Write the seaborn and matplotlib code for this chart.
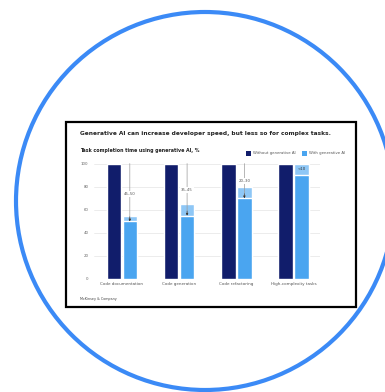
import matplotlib
matplotlib.use("Agg")
import matplotlib.pyplot as plt
from matplotlib.patches import Circle, Rectangle
import seaborn as sns
import pandas as pd

# ---- data ----
categories = ["Code documentation", "Code generation", "Code refactoring", "High-complexity tasks"]
without_ai = [100, 100, 100, 100]
with_ai_low = [50, 55, 70, 90]      # solid part of the "with AI" bar
with_ai_high = [55, 65, 80, 100]    # top of the paler range segment
reduction_labels = ["45–50", "35–45", "20–30", "<10"]
label_y = [74, 77, 85, 95]
yticks = [0, 20, 40, 60, 80, 100]
series = ["Without generative AI", "With generative AI"]

title = "Generative AI can increase developer speed, but less so for complex tasks."
subtitle = "Task completion time using generative AI, %"
source = "McKinsey & Company"

DARK = "#111d6b"
LIGHT = "#4aa5f0"
PALE = "#8ec7f6"
RING = "#3b8af6"

sns.set_theme(style="white")
plt.rcParams["font.family"] = ["DejaVu Sans"]

W, H = 385, 392
fig = plt.figure(figsize=(W / 100, H / 100), dpi=100)
fig.patch.set_facecolor("white")

# background drawing layer in pixel coordinates
bg = fig.add_axes([0, 0, 1, 1])
bg.set_xlim(0, W)
bg.set_ylim(H, 0)
bg.axis("off")
bg.add_patch(Circle((205, 201), 189, fill=False, edgecolor=RING, lw=3.0))
bg.add_patch(Rectangle((66, 122), 290, 185, facecolor="white", edgecolor="black", lw=1.6))
bg.text(80, 133, title, fontsize=4.2, fontweight="semibold", color="#222222", va="center", ha="left")
bg.text(80, 150, subtitle, fontsize=3.4, fontweight="semibold", color="#222222", va="center", ha="left")
bg.text(80, 299, source, fontsize=2.4, color="#444444", va="center", ha="left")

# legend
bg.add_patch(Rectangle((246, 150.5), 5, 5, facecolor=DARK, edgecolor="none"))
bg.text(253, 153, series[0], fontsize=2.8, color="#555555", va="center", ha="left")
bg.add_patch(Rectangle((302, 150.5), 5, 5, facecolor=LIGHT, edgecolor="none"))
bg.text(309, 153, series[1], fontsize=2.8, color="#555555", va="center", ha="left")

# chart axes
left, right, top, bottom = 94, 320, 163, 279
ax = fig.add_axes([left / W, 1 - bottom / H, (right - left) / W, (bottom - top) / H])
ax.set_facecolor("none")

bar_width = 0.56
df_pale = pd.DataFrame({
    "category": categories * 2,
    "series": [series[0]] * 4 + [series[1]] * 4,
    "value": without_ai + with_ai_high,
})
df_main = pd.DataFrame({
    "category": categories * 2,
    "series": [series[0]] * 4 + [series[1]] * 4,
    "value": without_ai + with_ai_low,
})
sns.barplot(data=df_pale, x="category", y="value", hue="series", palette=[DARK, PALE],
            width=bar_width, gap=0.1, ax=ax, legend=False, errorbar=None, saturation=1)
sns.barplot(data=df_main, x="category", y="value", hue="series", palette=[DARK, LIGHT],
            width=bar_width, gap=0.1, ax=ax, legend=False, errorbar=None, saturation=1)

ax.set_xlim(-0.485, 3.46)
ax.set_ylim(0, 100.5)
ax.set_yticks(yticks)
ax.set_yticklabels([str(t) for t in yticks], fontsize=2.8, color="#666666")
ax.tick_params(axis="y", length=0, pad=4)
ax.tick_params(axis="x", length=0, pad=2, labelsize=3.0, labelcolor="#555555")
ax.set_xlabel("")
ax.set_ylabel("")
for s in ax.spines.values():
    s.set_visible(False)
for t in yticks:
    ax.axhline(t, color="#e4e4e4" if t else "#cfcfcf", lw=0.5, zorder=0)

# arrows and range labels
offset = bar_width / 4
for i, (lo, lab, ly) in enumerate(zip(with_ai_low, reduction_labels, label_y)):
    x = i + offset
    if i < 3:
        ax.annotate("", xy=(x, lo), xytext=(x, 100),
                    arrowprops=dict(arrowstyle="-|>", color="#9a9a9a", lw=0.5,
                                    mutation_scale=3, shrinkA=0, shrinkB=0), zorder=4)
        ax.annotate("", xy=(x, lo), xytext=(x, lo + 4),
                    arrowprops=dict(arrowstyle="-|>", color="#333333", lw=0.4,
                                    mutation_scale=3, shrinkA=0, shrinkB=0), zorder=5)
        ax.text(x, ly, lab, fontsize=2.8, color="#555555", ha="center", va="center", zorder=6,
                bbox=dict(boxstyle="square,pad=0.25", facecolor="white", edgecolor="none"))
    else:
        ax.text(x, ly, lab, fontsize=2.8, color="#333333", ha="center", va="center", zorder=6)

fig.savefig("out.png", dpi=100, facecolor="white")
